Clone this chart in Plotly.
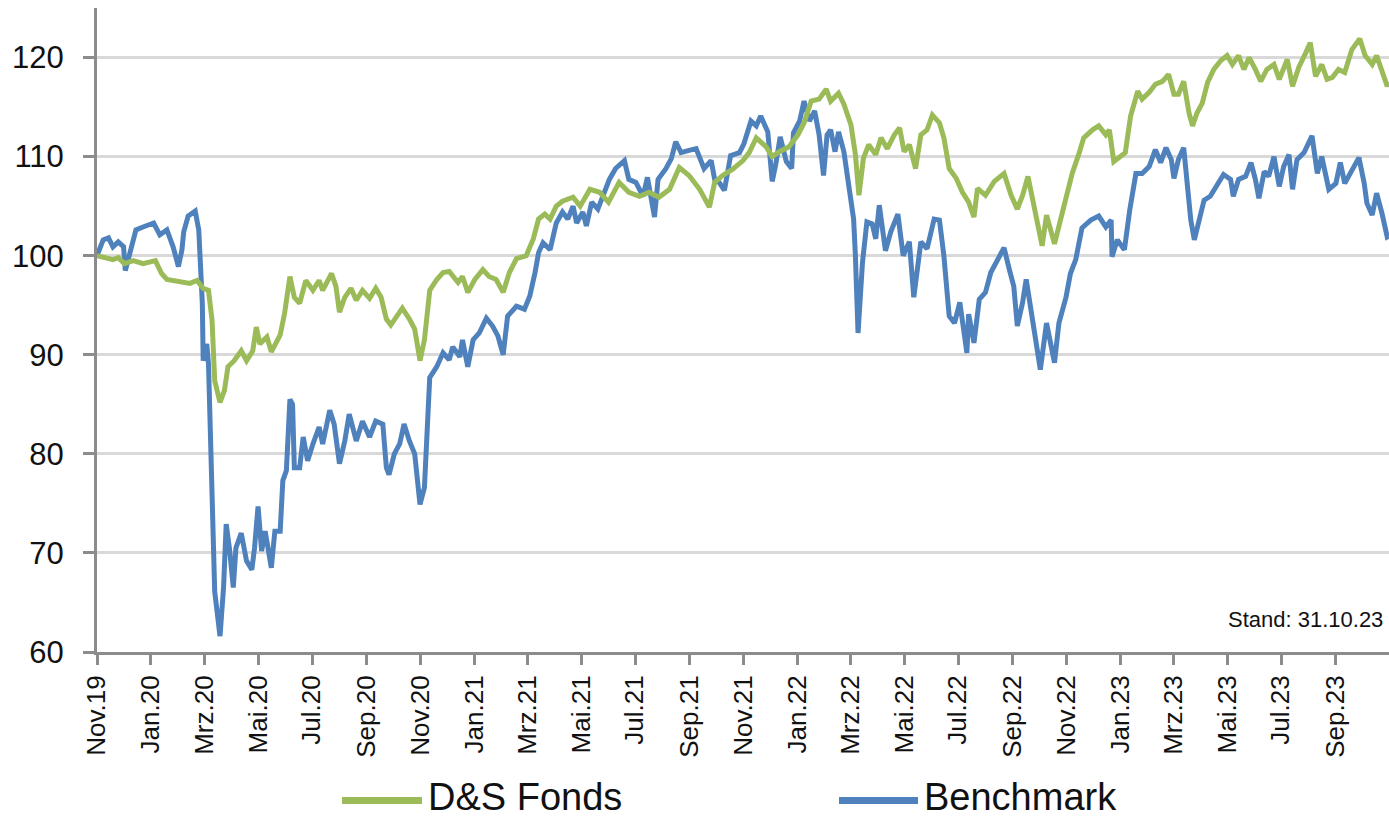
import plotly.graph_objects as go

# ---------------- data ----------------
bench_dates = [
    "2019-11-01", "2019-11-08", "2019-11-14", "2019-11-19", "2019-11-25", "2019-12-01", "2019-12-03", "2019-12-08", "2019-12-15", "2019-12-23",
    "2020-01-04", "2020-01-11", "2020-01-19", "2020-01-26", "2020-02-01", "2020-02-05", "2020-02-07", "2020-02-12", "2020-02-20", "2020-02-24",
    "2020-02-28", "2020-02-29", "2020-03-04", "2020-03-06", "2020-03-10", "2020-03-13", "2020-03-19", "2020-03-23", "2020-03-26", "2020-03-30",
    "2020-04-03", "2020-04-06", "2020-04-12", "2020-04-18", "2020-04-24", "2020-04-27", "2020-05-01", "2020-05-05", "2020-05-09", "2020-05-16",
    "2020-05-20", "2020-05-26", "2020-05-29", "2020-06-02", "2020-06-06", "2020-06-09", "2020-06-11", "2020-06-17", "2020-06-21", "2020-06-26",
    "2020-07-02", "2020-07-09", "2020-07-13", "2020-07-21", "2020-07-26", "2020-08-01", "2020-08-07", "2020-08-12", "2020-08-20", "2020-08-27",
    "2020-09-04", "2020-09-11", "2020-09-19", "2020-09-23", "2020-09-26", "2020-10-02", "2020-10-08", "2020-10-13", "2020-10-19", "2020-10-25",
    "2020-10-31", "2020-11-05", "2020-11-11", "2020-11-19", "2020-11-26", "2020-12-03", "2020-12-07", "2020-12-15", "2020-12-18", "2020-12-24",
    "2020-12-30", "2021-01-06", "2021-01-14", "2021-01-21", "2021-01-27", "2021-02-02", "2021-02-07", "2021-02-17", "2021-02-26", "2021-03-04",
    "2021-03-10", "2021-03-14", "2021-03-19", "2021-03-27", "2021-04-03", "2021-04-10", "2021-04-16", "2021-04-22", "2021-04-26", "2021-05-03",
    "2021-05-07", "2021-05-13", "2021-05-20", "2021-05-26", "2021-06-02", "2021-06-09", "2021-06-19", "2021-06-24", "2021-07-02", "2021-07-10",
    "2021-07-15", "2021-07-23", "2021-07-27", "2021-08-05", "2021-08-11", "2021-08-16", "2021-08-22", "2021-08-30", "2021-09-08", "2021-09-17",
    "2021-09-25", "2021-09-29", "2021-10-04", "2021-10-10", "2021-10-17", "2021-10-27", "2021-11-01", "2021-11-09", "2021-11-15", "2021-11-20",
    "2021-11-28", "2021-12-03", "2021-12-07", "2021-12-12", "2021-12-19", "2021-12-25", "2021-12-27", "2022-01-03", "2022-01-08", "2022-01-14",
    "2022-01-20", "2022-01-25", "2022-01-30", "2022-02-03", "2022-02-07", "2022-02-12", "2022-02-16", "2022-02-22", "2022-02-28", "2022-03-05",
    "2022-03-07", "2022-03-10", "2022-03-15", "2022-03-20", "2022-03-26", "2022-03-30", "2022-04-03", "2022-04-10", "2022-04-16", "2022-04-24",
    "2022-04-30", "2022-05-07", "2022-05-12", "2022-05-20", "2022-05-27", "2022-06-04", "2022-06-10", "2022-06-15", "2022-06-21", "2022-06-27",
    "2022-07-03", "2022-07-11", "2022-07-13", "2022-07-19", "2022-07-25", "2022-08-01", "2022-08-07", "2022-08-15", "2022-08-22", "2022-08-28",
    "2022-09-02", "2022-09-06", "2022-09-12", "2022-09-16", "2022-09-21", "2022-09-27", "2022-10-02", "2022-10-09", "2022-10-18", "2022-10-23",
    "2022-10-31", "2022-11-05", "2022-11-11", "2022-11-18", "2022-11-28", "2022-12-07", "2022-12-15", "2022-12-21", "2022-12-22", "2022-12-28",
    "2023-01-05", "2023-01-11", "2023-01-18", "2023-01-25", "2023-02-02", "2023-02-09", "2023-02-15", "2023-02-21", "2023-02-27", "2023-03-02",
    "2023-03-07", "2023-03-13", "2023-03-17", "2023-03-21", "2023-03-25", "2023-03-30", "2023-04-05", "2023-04-12", "2023-04-20", "2023-04-27",
    "2023-05-05", "2023-05-08", "2023-05-14", "2023-05-22", "2023-05-28", "2023-06-02", "2023-06-06", "2023-06-12", "2023-06-17", "2023-06-23",
    "2023-06-29", "2023-07-04", "2023-07-10", "2023-07-14", "2023-07-19", "2023-07-27", "2023-08-05", "2023-08-11", "2023-08-16", "2023-08-24",
    "2023-09-01", "2023-09-06", "2023-09-11", "2023-09-17", "2023-09-27", "2023-10-03", "2023-10-06", "2023-10-12", "2023-10-17", "2023-10-23",
    "2023-10-29", "2023-10-31",
]
bench_values = [
    100.0, 101.6, 101.8, 100.9, 101.4, 100.9, 98.5, 100.4, 102.6, 102.9,
    103.3, 102.1, 102.6, 100.9, 98.9, 100.6, 102.4, 104.0, 104.5, 102.6,
    95.2, 89.4, 91.1, 89.1, 76.6, 66.1, 61.6, 66.5, 72.9, 70.2,
    66.5, 70.5, 72.0, 69.2, 68.3, 70.5, 74.7, 70.2, 72.2, 68.5,
    72.2, 72.2, 77.3, 78.3, 85.5, 85.0, 78.6, 78.6, 81.7, 79.3,
    81.0, 82.7, 81.0, 84.4, 83.0, 79.0, 81.3, 84.0, 81.3, 83.3,
    81.7, 83.3, 83.0, 78.6, 77.9, 80.0, 81.0, 83.0, 81.3, 80.0,
    74.9, 76.6, 87.7, 88.8, 90.2, 89.5, 90.8, 89.8, 91.5, 88.8,
    91.5, 92.2, 93.7, 92.9, 91.9, 90.0, 93.9, 94.9, 94.6, 95.9,
    98.3, 100.3, 101.3, 100.6, 103.3, 104.4, 103.7, 105.0, 103.3, 104.4,
    103.0, 105.4, 104.7, 106.0, 107.7, 108.8, 109.6, 107.7, 107.4, 106.0,
    107.9, 103.9, 107.7, 108.8, 109.8, 111.5, 110.4, 110.6, 110.8, 108.8,
    109.6, 107.7, 107.4, 106.6, 110.1, 110.4, 111.3, 113.6, 113.1, 114.1,
    112.5, 107.5, 109.2, 112.0, 109.5, 108.8, 112.4, 113.6, 115.6, 113.6,
    114.6, 112.2, 108.1, 112.2, 112.7, 110.5, 112.5, 110.5, 107.1, 103.7,
    100.0, 92.2, 99.3, 103.4, 103.2, 101.7, 105.1, 100.5, 102.4, 104.2,
    100.0, 101.4, 95.8, 101.4, 100.7, 103.7, 103.6, 100.0, 93.9, 93.2,
    95.3, 90.2, 94.1, 91.2, 95.6, 96.3, 98.3, 99.7, 100.8, 98.6,
    96.9, 92.9, 95.3, 97.6, 94.6, 91.2, 88.5, 93.2, 89.2, 93.2,
    95.8, 98.2, 99.6, 102.8, 103.6, 104.0, 102.9, 103.6, 99.9, 101.6,
    100.6, 104.6, 108.3, 108.3, 109.0, 110.7, 109.4, 110.9, 109.7, 107.8,
    109.7, 110.9, 107.7, 103.6, 101.6, 103.6, 105.6, 106.0, 107.3, 108.2,
    107.7, 106.0, 107.7, 108.0, 109.4, 107.7, 105.8, 108.5, 108.0, 110.0,
    107.0, 109.0, 110.2, 106.7, 109.7, 110.4, 112.1, 108.3, 110.0, 106.7,
    107.3, 109.4, 107.3, 108.3, 109.9, 107.3, 105.3, 104.1, 106.3, 104.3,
    101.9, 102.0,
]

fonds_dates = [
    "2019-11-01", "2019-11-08", "2019-11-19", "2019-11-25", "2019-12-02", "2019-12-12", "2019-12-23", "2020-01-06", "2020-01-13", "2020-01-19",
    "2020-02-03", "2020-02-14", "2020-02-22", "2020-02-29", "2020-03-06", "2020-03-10", "2020-03-13", "2020-03-19", "2020-03-24", "2020-03-28",
    "2020-04-04", "2020-04-12", "2020-04-18", "2020-04-25", "2020-04-29", "2020-05-03", "2020-05-11", "2020-05-16", "2020-05-26", "2020-05-31",
    "2020-06-06", "2020-06-11", "2020-06-17", "2020-06-24", "2020-07-02", "2020-07-09", "2020-07-13", "2020-07-23", "2020-07-28", "2020-08-01",
    "2020-08-07", "2020-08-14", "2020-08-20", "2020-08-27", "2020-09-04", "2020-09-11", "2020-09-17", "2020-09-23", "2020-09-28", "2020-10-04",
    "2020-10-11", "2020-10-19", "2020-10-25", "2020-10-31", "2020-11-05", "2020-11-11", "2020-11-19", "2020-11-26", "2020-12-03", "2020-12-13",
    "2020-12-18", "2020-12-24", "2021-01-01", "2021-01-10", "2021-01-17", "2021-01-25", "2021-02-02", "2021-02-09", "2021-02-17", "2021-02-28",
    "2021-03-08", "2021-03-14", "2021-03-21", "2021-03-27", "2021-04-03", "2021-04-10", "2021-04-22", "2021-04-30", "2021-05-11", "2021-05-22",
    "2021-06-01", "2021-06-13", "2021-06-24", "2021-07-06", "2021-07-17", "2021-07-28", "2021-08-09", "2021-08-20", "2021-08-31", "2021-09-12",
    "2021-09-23", "2021-09-29", "2021-10-08", "2021-10-19", "2021-10-31", "2021-11-07", "2021-11-15", "2021-11-26", "2021-12-03", "2021-12-11",
    "2021-12-22", "2022-01-01", "2022-01-08", "2022-01-16", "2022-01-25", "2022-02-02", "2022-02-07", "2022-02-16", "2022-02-22", "2022-03-02",
    "2022-03-07", "2022-03-11", "2022-03-16", "2022-03-22", "2022-03-30", "2022-04-05", "2022-04-12", "2022-04-20", "2022-04-26", "2022-05-01",
    "2022-05-07", "2022-05-14", "2022-05-20", "2022-05-27", "2022-06-02", "2022-06-10", "2022-06-15", "2022-06-21", "2022-06-29", "2022-07-06",
    "2022-07-13", "2022-07-19", "2022-07-23", "2022-08-01", "2022-08-11", "2022-08-22", "2022-08-30", "2022-09-06", "2022-09-12", "2022-09-18",
    "2022-09-23", "2022-09-29", "2022-10-04", "2022-10-09", "2022-10-18", "2022-10-25", "2022-10-31", "2022-11-07", "2022-11-15", "2022-11-20",
    "2022-11-30", "2022-12-07", "2022-12-15", "2022-12-19", "2022-12-24", "2023-01-01", "2023-01-06", "2023-01-12", "2023-01-20", "2023-01-25",
    "2023-02-02", "2023-02-09", "2023-02-17", "2023-02-24", "2023-03-02", "2023-03-07", "2023-03-13", "2023-03-19", "2023-03-23", "2023-03-28",
    "2023-04-03", "2023-04-09", "2023-04-16", "2023-04-24", "2023-05-01", "2023-05-07", "2023-05-14", "2023-05-20", "2023-05-26", "2023-06-02",
    "2023-06-08", "2023-06-15", "2023-06-23", "2023-06-29", "2023-07-08", "2023-07-14", "2023-07-21", "2023-07-29", "2023-08-03", "2023-08-09",
    "2023-08-16", "2023-08-22", "2023-08-28", "2023-09-04", "2023-09-11", "2023-09-19", "2023-09-28", "2023-10-04", "2023-10-12", "2023-10-17",
    "2023-10-23", "2023-10-29", "2023-10-31",
]
fonds_values = [
    100.0, 99.8, 99.6, 99.8, 99.2, 99.5, 99.2, 99.5, 98.2, 97.6,
    97.3, 97.2, 97.5, 96.7, 96.5, 93.5, 87.4, 85.2, 86.4, 88.8,
    89.4, 90.4, 89.4, 90.4, 92.8, 91.1, 91.8, 90.3, 92.0, 94.2,
    97.9, 95.8, 95.2, 97.5, 96.5, 97.5, 96.5, 98.2, 96.9, 94.3,
    95.8, 96.7, 95.5, 96.5, 95.7, 96.7, 95.8, 93.6, 93.0, 93.8,
    94.7, 93.6, 92.6, 89.4, 91.5, 96.5, 97.6, 98.3, 98.4, 97.3,
    97.9, 96.3, 97.6, 98.6, 97.9, 97.6, 96.3, 98.3, 99.7, 100.0,
    101.7, 103.7, 104.2, 103.7, 105.0, 105.5, 105.9, 105.0, 106.7, 106.4,
    105.4, 107.4, 106.4, 106.0, 106.4, 105.9, 106.7, 108.9, 108.1, 106.7,
    104.9, 107.4, 108.1, 108.7, 109.6, 110.4, 111.9, 111.0, 110.0, 110.5,
    111.0, 112.2, 113.4, 115.6, 115.8, 116.8, 115.6, 116.4, 115.3, 113.2,
    110.2, 106.1, 109.8, 111.2, 110.2, 111.9, 110.8, 112.2, 112.9, 110.5,
    111.2, 108.8, 112.2, 112.7, 114.2, 113.4, 111.9, 108.8, 107.8, 106.4,
    105.4, 103.9, 106.8, 106.1, 107.5, 108.3, 106.1, 104.7, 106.1, 108.0,
    105.8, 103.1, 101.0, 104.1, 101.2, 103.7, 106.0, 108.3, 110.4, 111.9,
    112.7, 113.1, 112.2, 112.7, 109.5, 110.0, 110.4, 114.1, 116.6, 115.8,
    116.5, 117.3, 117.6, 118.3, 116.3, 116.3, 117.6, 114.4, 113.1, 114.4,
    115.4, 117.5, 118.8, 119.7, 120.2, 119.3, 120.2, 118.8, 120.0, 118.8,
    117.6, 118.8, 119.3, 117.8, 119.8, 117.1, 119.0, 120.5, 121.5, 118.1,
    119.3, 117.8, 118.0, 118.8, 118.5, 120.8, 121.9, 120.2, 119.3, 120.2,
    118.8, 117.1, 117.5,
]

series_names = ["D&S Fonds", "Benchmark"]
series_colors = ["#9BBB59", "#4F81BD"]

tick_dates = [
    "2019-11-01", "2020-01-01", "2020-03-01", "2020-05-01", "2020-07-01", "2020-09-01",
    "2020-11-01", "2021-01-01", "2021-03-01", "2021-05-01", "2021-07-01", "2021-09-01",
    "2021-11-01", "2022-01-01", "2022-03-01", "2022-05-01", "2022-07-01", "2022-09-01",
    "2022-11-01", "2023-01-01", "2023-03-01", "2023-05-01", "2023-07-01", "2023-09-01",
]
tick_labels = [
    "Nov.19", "Jan.20", "Mrz.20", "Mai.20", "Jul.20", "Sep.20",
    "Nov.20", "Jan.21", "Mrz.21", "Mai.21", "Jul.21", "Sep.21",
    "Nov.21", "Jan.22", "Mrz.22", "Mai.22", "Jul.22", "Sep.22",
    "Nov.22", "Jan.23", "Mrz.23", "Mai.23", "Jul.23", "Sep.23",
]
y_ticks = [60, 70, 80, 90, 100, 110, 120]
stand_text = "Stand: 31.10.23"

# ---------------- figure ----------------
W, H = 1389, 820
ML, MR, MT, MB = 97, 0, 8, 168
PW, PH = W - ML - MR, H - MT - MB

FONT = "Liberation Sans"
TXT = "#111111"
AXC = "#8C8C8C"

fig = go.Figure()
fig.add_trace(go.Scatter(x=bench_dates, y=bench_values, mode="lines", name=series_names[1],
                         line=dict(color=series_colors[1], width=5), showlegend=False))
fig.add_trace(go.Scatter(x=fonds_dates, y=fonds_values, mode="lines", name=series_names[0],
                         line=dict(color=series_colors[0], width=5), showlegend=False))


def px_x(px):
    return (px - ML) / PW


def px_y(py):
    return (H - MB - py) / PH


# custom legend (line samples + labels)
legend_items = [
    (series_names[0], series_colors[0], 342, 422, 426),
    (series_names[1], series_colors[1], 839, 918, 922),
]
shapes = []
annotations = []
for name, col, x0, x1, tx in legend_items:
    shapes.append(dict(type="line", xref="paper", yref="paper",
                       x0=px_x(x0), x1=px_x(x1), y0=px_y(800.5), y1=px_y(800.5),
                       line=dict(color=col, width=7)))
    annotations.append(dict(xref="paper", yref="paper", x=px_x(tx), y=px_y(797),
                            text=name, showarrow=False, xanchor="left", yanchor="middle",
                            font=dict(family=FONT, size=38, color=TXT)))

annotations.append(dict(xref="paper", yref="paper", x=px_x(1385), y=px_y(619),
                        text=stand_text, showarrow=False, xanchor="right", yanchor="middle",
                        font=dict(family=FONT, size=22, color=TXT)))

fig.update_layout(
    width=W, height=H,
    margin=dict(l=ML, r=MR, t=MT, b=MB, pad=0),
    paper_bgcolor="white", plot_bgcolor="white",
    shapes=shapes, annotations=annotations,
    showlegend=False,
)
fig.update_xaxes(
    type="date", range=["2019-11-01", "2023-10-31"], automargin=False,
    tickmode="array", tickvals=tick_dates, ticktext=tick_labels, tickangle=-90,
    ticks="outside", ticklen=10, tickwidth=3, tickcolor=AXC,
    showline=True, linecolor=AXC, linewidth=3,
    showgrid=False, zeroline=False,
    tickfont=dict(family=FONT, size=26, color=TXT),
)
fig.update_yaxes(
    range=[60, 125], tickmode="array", tickvals=y_ticks, automargin=False,
    ticks="outside", ticklen=11, tickwidth=3, tickcolor=AXC,
    showline=True, linecolor=AXC, linewidth=3,
    showgrid=True, gridcolor="#D9D9D9", gridwidth=2.5, zeroline=False,
    tickfont=dict(family=FONT, size=31, color=TXT),
    ticklabelstandoff=13,
)

fig.write_html(
    "out.html",
    config={"displayModeBar": False},
    post_script="document.body.style.margin='0';document.body.style.overflow='hidden';",
)
